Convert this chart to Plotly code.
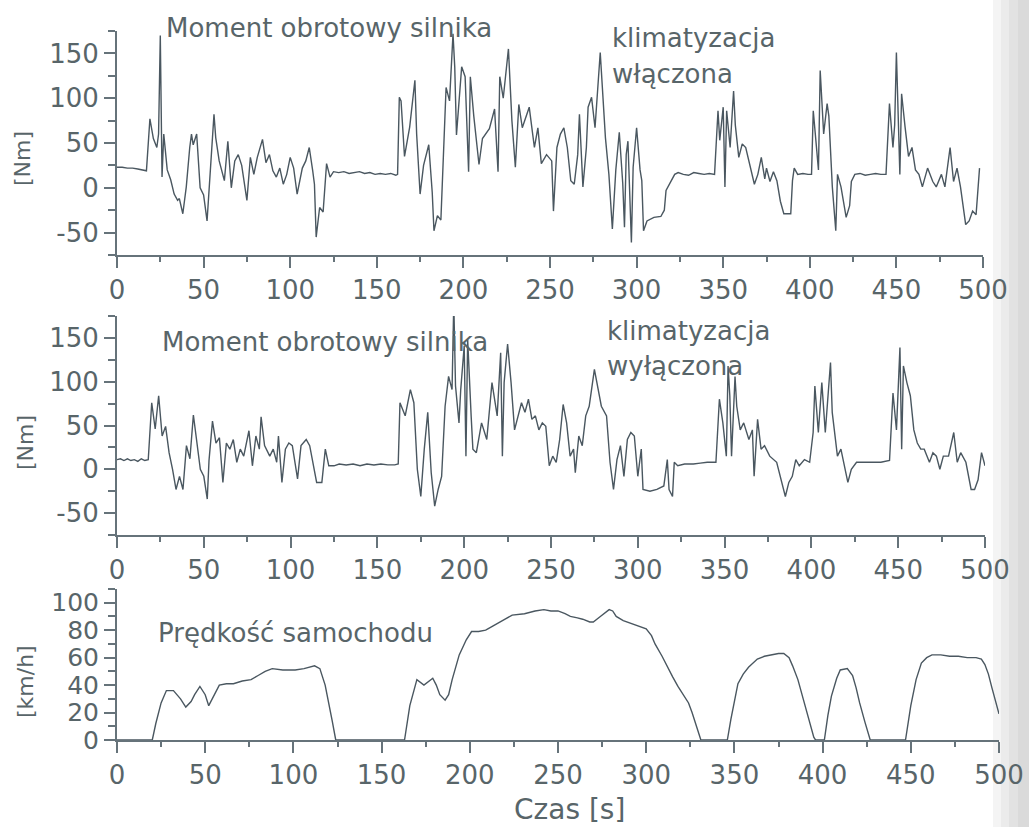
import plotly.graph_objects as go

W, H = 1029, 827

# ---------------- data ----------------
# Top: engine torque, air-conditioning ON
t_on = [0, 3, 6, 9, 12, 15, 17, 19, 21, 23, 24, 25, 26, 27, 29, 31, 33, 35, 36, 38, 40, 42, 43, 44, 46, 48,
        50, 52, 54, 56, 57, 59, 62, 64, 66, 68, 70, 72, 75, 77, 79, 81, 84, 86, 88, 90, 92, 94, 96, 98,
        100, 102, 104, 107, 109, 111, 113, 114, 115, 117, 119, 121, 123, 125, 128, 131, 134, 137, 140,
        143, 146, 149, 152, 155, 158, 161, 162, 163, 164, 166, 169, 172, 173, 175, 177, 180, 182, 183,
        185, 187, 188, 189, 190, 192, 194, 195, 196, 199, 201, 203, 204, 206, 209, 211, 215, 218, 220,
        221, 223, 226, 228, 230, 232, 234, 238, 240, 241, 243, 245, 248, 251, 252, 254, 256, 258, 260,
        262, 264, 266, 267, 269, 271, 272, 274, 276, 279, 281, 282, 284, 286, 288, 290, 292, 293, 294,
        295, 297, 298, 300, 302, 303, 304, 306, 310, 314, 316, 317, 320, 322, 324, 327, 330, 333, 336,
        339, 342, 345, 347, 348, 350, 351, 352, 354, 356, 357, 359, 361, 363, 366, 368, 370, 372, 374,
        375, 377, 379, 381, 383, 385, 387, 389, 390, 391, 393, 396, 399, 401, 402, 404, 405, 406, 408,
        410, 411, 413, 415, 416, 418, 421, 423, 424, 426, 429, 432, 435, 438, 441, 444, 446, 448, 449,
        450, 452, 453, 455, 457, 459, 461, 463, 465, 468, 471, 473, 476, 478, 481, 483, 485, 487, 489,
        490, 492, 494, 496, 498, 500]
v_on = [23, 23, 22, 22, 21, 20, 19, 77, 55, 45, 60, 170, 12, 60, 20, 9, -7, -14, -12, -29, 1, 45, 60, 48, 60, 0,
        -8, -37, 19, 82, 56, 30, 8, 52, 0, 30, 37, 25, -14, 34, 15, 34, 54, 28, 37, 19, 12, 22, 4, 15,
        34, 22, -7, 22, 30, 45, 19, 4, -55, -22, -27, 27, 12, 18, 17, 18, 16, 17, 18,
        16, 17, 15, 16, 15, 16, 14, 15, 101, 97, 35, 68, 120, 60, -7, 25, 48, -5, -48,
        -31, -36, 20, 61, 112, 97, 172, 135, 59, 135, 124, 18, 124, 80, 26, 55, 66, 88, 18,
        124, 100, 155, 75, 23, 93, 67, 90, 60, 45, 67, 27, 37, 30, -26, 45, 60, 67, 45,
        8, 4, 37, 82, 1, 45, 90, 101, 67, 151, 93, 56, 15, -46, 20, 62, 5, -44, 37,
        52, -61, 23, 67, 20, 8, -48, -37, -33, -32, -25, -3, 8, 15, 17, 15, 14, 17, 16,
        15, 16, 15, 86, 53, 90, 1, 86, 45, 108, 70, 34, 49, 45, 22, 4, 15, 34, 10,
        22, 7, 18, 8, -15, -29, -29, -29, 8, 22, 15, 16, 15, 15, 86, 40, 20, 131, 60,
        94, 80, 1, -48, 15, 1, -33, -20, 7, 15, 16, 14, 15, 16, 15, 15, 94, 45,
        70, 151, 15, 105, 68, 35, 45, 20, 15, 1, 22, 7, 1, 15, 1, 45, 7, 22, 1,
        -29, -41, -37, -26, -30, 22]

# Middle: engine torque, air-conditioning OFF
t_off = [0, 2, 4, 6, 8, 10, 12, 14, 16, 18, 20, 22, 24, 26, 28, 30, 32, 34, 36, 38, 40, 42, 44, 46, 48,
         50, 52, 53, 55, 57, 59, 61, 63, 65, 67, 69, 71, 73, 76, 78, 80, 82, 83, 85, 88, 90, 92, 93, 95,
         97, 99, 101, 104, 106, 109, 111, 113, 115, 118, 120, 122, 125, 128, 132, 136, 140, 144, 148,
         152, 156, 160, 162, 163, 166, 169, 171, 173, 175, 177, 179, 181, 183, 185, 187, 189, 191, 193,
         194, 195, 197, 198, 200, 201, 202, 204, 205, 207, 210, 213, 216, 219, 221, 222, 223, 225, 227,
         229, 231, 233, 235, 237, 239, 241, 243, 245, 247, 249, 251, 253, 255, 257, 259, 261, 263, 264,
         266, 268, 270, 272, 275, 277, 279, 282, 284, 286, 288, 290, 292, 294, 296, 298, 300, 302, 303,
         307, 311, 315, 317, 318, 320, 321, 323, 327, 332, 336, 340, 345, 347, 349, 351, 352, 353, 354,
         356, 357, 359, 361, 364, 366, 367, 369, 371, 373, 376, 380, 383, 385, 387, 389, 391, 393, 396,
         399, 401, 402, 404, 406, 408, 411, 412, 415, 417, 419, 421, 423, 426, 430, 435, 440, 445, 447,
         449, 451, 452, 453, 455, 457, 459, 461, 463, 465, 468, 470, 472, 474, 476, 479, 482, 484, 486,
         489, 492, 494, 496, 498, 500]
v_off = [11, 12, 10, 12, 10, 11, 9, 12, 10, 11, 76, 46, 84, 38, 49, 19, 0, -23, -8, -23, 27, 12, 62, 30, 0,
         -8, -34, 10, 55, 30, 36, -15, 30, 23, 34, 8, 23, 15, 44, 4, 38, 23, 60, 27, 15, 23, 8, 38, -15,
         23, 30, 27, -11, 27, 34, 27, 8, -15, -15, 23, 4, 4, 6, 5, 6, 4, 6, 5,
         6, 5, 5, 6, 76, 61, 91, 76, 0, -31, 23, 65, -4, -42, -23, -8, 72, 106, 91,
         190, 95, 53, 91, 141, 15, 148, 61, 23, 19, 53, 34, 99, 61, 133, 15, 99, 143, 99,
         45, 61, 76, 65, 80, 57, 61, 45, 53, 49, 4, 15, 8, 34, 74, 53, 15, 23, -4,
         38, 27, 61, 72, 114, 91, 72, 61, 8, -23, 11, 27, -8, 34, 42, 38, -8, 23, -23,
         -25, -23, -19, 11, -23, -31, 8, 4, 6, 6, 7, 8, 8, 80, 53, 15, 118, 84, 15,
         106, 72, 45, 53, 34, 45, -8, 57, 23, 27, 15, 8, -15, -31, -15, -8, 11, 4, 11,
         8, 42, 95, 42, 99, 42, 122, 65, 15, 23, 4, -15, 0, 8, 8, 8, 8, 10, 87,
         45, 139, 23, 118, 99, 84, 45, 30, 23, 23, 8, 19, 15, 0, 15, 15, 42, 8, 19,
         8, -23, -23, -12, 19, 4]

# Bottom: vehicle speed
t_spd = [0, 20, 22, 25, 28, 32, 36, 39, 42, 44, 47, 50, 52, 55, 58, 62, 66, 71, 76, 80, 84, 88, 94, 101,
         106, 112, 115, 118, 120, 122, 124, 163, 166, 170, 174, 179, 181, 183, 186, 188, 190, 194, 198,
         201, 205, 209, 213, 216, 220, 224, 231, 237, 242, 246, 250, 254, 257, 261, 264, 268, 270, 274,
         277, 279, 281, 283, 287, 291, 296, 300, 303, 305, 309, 312, 315, 318, 321, 324, 326, 328, 330,
         331, 346, 348, 352, 355, 358, 363, 367, 371, 375, 378, 381, 383, 386, 389, 392, 395, 396, 401,
         403, 405, 408, 410, 414, 417, 419, 421, 424, 427, 447, 450, 453, 456, 459, 462, 467, 472, 477,
         482, 487, 490, 492, 494, 496, 498, 500]
v_spd = [0, 0, 12, 27, 36, 36, 30, 24, 28, 33, 39, 33, 25, 32, 40, 41, 41, 43, 44, 47, 50, 52, 51, 51,
         52, 54, 52, 40, 28, 14, 0, 0, 25, 44, 40, 45, 40, 33, 29, 33, 44, 62, 73,
         79, 79, 80, 83, 85, 88, 91, 92, 94, 95, 94, 94, 92, 90, 89, 88, 86, 86, 90,
         93, 95, 94, 90, 87, 85, 83, 81, 76, 70, 61, 53, 46, 39, 33, 27, 20, 12, 3,
         0, 0, 15, 41, 48, 53, 59, 61, 62, 63, 63, 60, 54, 44, 30, 16, 2, 0, 0,
         18, 32, 45, 51, 52, 47, 38, 27, 13, 0, 0, 25, 44, 56, 60, 62, 62, 61, 61,
         60, 60, 59, 55, 48, 38, 28, 19]

x_ticks = [0, 50, 100, 150, 200, 250, 300, 350, 400, 450, 500]
torque_ticks = [-50, 0, 50, 100, 150]
torque_labels = ["-50", "0", "50", "100", "150"]
speed_ticks = [0, 20, 40, 60, 80, 100]

titles_torque = "Moment obrotowy silnika"
label_on = ["klimatyzacja", "włączona"]
label_off = ["klimatyzacja", "wyłączona"]
title_speed = "Prędkość samochodu"

# ---------------- style ----------------
FONT = "DejaVu Sans"
TXT = "#586569"
AX = "#66737a"
LINE = "#4a5760"


def px_x(p):
    return p / W


def px_y(p):
    return 1 - p / H


fig = go.Figure()
fig.add_trace(go.Scatter(x=t_on, y=v_on, mode="lines", line=dict(color=LINE, width=1.4),
                         xaxis="x", yaxis="y", showlegend=False))
fig.add_trace(go.Scatter(x=t_off, y=v_off, mode="lines", line=dict(color=LINE, width=1.4),
                         xaxis="x2", yaxis="y2", showlegend=False))
fig.add_trace(go.Scatter(x=t_spd, y=v_spd, mode="lines", line=dict(color=LINE, width=1.4),
                         xaxis="x3", yaxis="y3", showlegend=False))


def xax(dom, anchor):
    return dict(domain=dom, anchor=anchor, range=[0, 500], tickvals=x_ticks,
                ticks="outside", ticklen=11, tickwidth=2, tickcolor=AX,
                showline=True, linewidth=2, linecolor=AX, showgrid=False, zeroline=False,
                tickfont=dict(family=FONT, size=26, color=TXT),
                minor=dict(dtick=25, tick0=0, ticks="outside", ticklen=5, tickwidth=2, tickcolor=AX),
                fixedrange=True, automargin=False)


def yax(dom, anchor, rng, tv, tt, mdt, fs=26):
    return dict(domain=dom, anchor=anchor, range=rng, tickvals=tv, ticktext=tt,
                ticks="outside", ticklen=11, tickwidth=2, tickcolor=AX,
                showline=True, linewidth=2, linecolor=AX, showgrid=False, zeroline=False,
                tickfont=dict(family=FONT, size=fs, color=TXT),
                minor=dict(dtick=mdt, tick0=0, ticks="outside", ticklen=7, tickwidth=2, tickcolor=AX),
                fixedrange=True, automargin=False)


fig.update_layout(
    width=W, height=H, margin=dict(l=0, r=0, t=0, b=0),
    paper_bgcolor="white", plot_bgcolor="rgba(0,0,0,0)",
    xaxis=xax([px_x(117), px_x(983)], "y"),
    yaxis=yax([px_y(255), px_y(31)], "x", [-75, 175], torque_ticks, torque_labels, 25),
    xaxis2=xax([px_x(117), px_x(985)], "y2"),
    yaxis2=yax([px_y(535), px_y(316)], "x2", [-75, 175], torque_ticks, torque_labels, 25),
    xaxis3=xax([px_x(117), px_x(999)], "y3"),
    yaxis3=yax([px_y(740), px_y(589)], "x3", [0, 110], speed_ticks, [str(v) for v in speed_ticks], 10, fs=25),
)


def ann(text, x, y, size=26, angle=0, xanchor="left"):
    return dict(text=text, x=px_x(x), y=px_y(y), xref="paper", yref="paper",
                xanchor=xanchor, yanchor="middle", showarrow=False, textangle=angle,
                font=dict(family=FONT, size=size, color=TXT))


anns = [
    ann(titles_torque, 164, 28),
    ann(label_on[0], 610, 38),
    ann(label_on[1], 610, 74),
    ann(titles_torque, 160, 342),
    ann(label_off[0], 605, 331),
    ann(label_off[1], 605, 366),
    ann(title_speed, 156, 633),
    ann("[Nm]", 22, 159, size=22, angle=-90, xanchor="center"),
    ann("[Nm]", 25, 443, size=22, angle=-90, xanchor="center"),
    ann("[km/h]", 25, 682, size=22, angle=-90, xanchor="center"),
    ann("Czas [s]", 569, 809, size=28, xanchor="center"),
]
fig.update_layout(annotations=anns)

# page shading at the right edge of the scan
shades = [(993, 1001, "#f4f4f4"), (1001, 1009, "#ebebeb"), (1009, 1018, "#e2e2e2"), (1018, 1029, "#dadada")]
fig.update_layout(shapes=[dict(type="rect", xref="paper", yref="paper", x0=a / W, x1=b / W, y0=0, y1=1,
                               fillcolor=c, line=dict(width=0), layer="below") for a, b, c in shades])

fig.write_html("out.html", config={"displayModeBar": False},
               post_script="document.body.style.margin='0';document.body.style.overflow='hidden';")
